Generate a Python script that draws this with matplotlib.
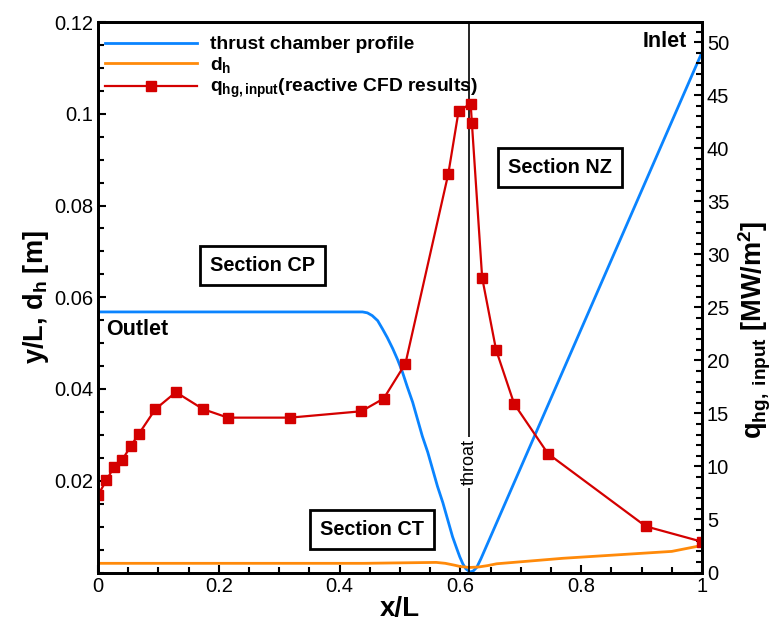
import numpy as np
import matplotlib
matplotlib.use('Agg')
import matplotlib.pyplot as plt
from matplotlib.ticker import MultipleLocator, FixedLocator
#
# -----------------------------------------------------------------------------
#
""" Data """
# thrust chamber contour (normalized radius over normalized length)
x_prof = [0.0, 0.438, 0.446, 0.454, 0.463, 0.471, 0.479, 0.488, 0.496, 0.504,
          0.512, 0.521, 0.529, 0.537, 0.546, 0.554, 0.562, 0.571, 0.579, 0.587,
          0.594, 0.599, 0.604, 0.609, 0.616, 0.621, 0.627, 0.634, 1.0]
y_prof = [0.0568, 0.0568, 0.0566, 0.0560, 0.0549, 0.0531, 0.0512, 0.0488, 0.0464, 0.0437,
          0.0405, 0.0371, 0.0334, 0.0297, 0.0262, 0.0225, 0.0188, 0.0152, 0.0115, 0.0078,
          0.0052, 0.0034, 0.0019, 0.0008, 0.0001, 0.0003, 0.0011, 0.0030, 0.1134]

# hydraulic diameter of the cooling channels
x_dh = [0.0, 0.44, 0.50, 0.56, 0.575, 0.59, 0.60, 0.615, 0.63, 0.645, 0.66, 0.77, 0.95, 1.0]
dh = [0.0020, 0.0020, 0.0021, 0.0022, 0.0020, 0.0016, 0.0013, 0.0011, 0.0012, 0.0015,
      0.0019, 0.0031, 0.0046, 0.0059]

# hot gas wall heat flux from reactive CFD
x_q = [0.0, 0.014, 0.026, 0.040, 0.054, 0.068, 0.095, 0.129, 0.174, 0.215, 0.318, 0.436,
       0.473, 0.509, 0.580, 0.597, 0.617, 0.619, 0.636, 0.659, 0.689, 0.745, 0.907, 1.0]
q_hg = [7.3, 8.7, 9.9, 10.6, 11.9, 13.1, 15.4, 17.0, 15.4, 14.6, 14.6, 15.2,
        16.4, 19.7, 37.6, 43.5, 44.2, 42.4, 27.8, 21.0, 15.9, 11.2, 4.35, 2.9]

x_throat = 0.614
#
# -----------------------------------------------------------------------------
#
""" Plot """
matplotlib.rcParams.update({'font.family': 'Liberation Sans',
                            'mathtext.fontset': 'custom',
                            'mathtext.rm': 'Liberation Sans',
                            'mathtext.bf': 'Liberation Sans:bold',
                            'mathtext.it': 'Liberation Sans:italic',
                            'font.size': 14})

f = plt.figure(figsize=(7.75, 6.21), dpi=100)
ax1 = f.add_axes([98/775, 1 - 572.5/621, 604/775, 550.5/621])
ax2 = ax1.twinx()

c_blue = '#0a84ff'
c_orange = '#ff8a0a'
c_red = '#d40000'

l1, = ax1.plot(x_prof, y_prof, c=c_blue, linewidth=2.0, label='thrust chamber profile')
l2, = ax1.plot(x_dh, dh, c=c_orange, linewidth=2.0, label=r'd$_\mathbf{h}$')
l3, = ax2.plot(x_q, q_hg, c=c_red, linewidth=1.6, marker='s', markersize=6.8,
               label=r'q$_\mathbf{hg,input}$(reactive CFD results)')

ax1.axvline(x_throat, c='k', linewidth=1.2)
ax1.text(x_throat, 0.0240, 'throat', rotation=90, ha='center', va='center', fontsize=13,
         bbox=dict(facecolor='white', edgecolor='none', pad=1.5))

# section boxes
box = dict(boxstyle='square,pad=0.5', facecolor='white', edgecolor='k', linewidth=2)
ax1.text(0.273, 0.0669, 'Section CP', ha='center', va='center', fontsize=14.3,
         fontweight='bold', bbox=box)
ax1.text(0.453, 0.0093, 'Section CT', ha='center', va='center', fontsize=14.3,
         fontweight='bold', bbox=box)
ax1.text(0.765, 0.0882, 'Section NZ', ha='center', va='center', fontsize=14.3,
         fontweight='bold', bbox=box)
ax1.text(0.013, 0.0530, 'Outlet', ha='left', va='center', fontsize=15.5, fontweight='bold')
ax1.text(0.975, 0.1157, 'Inlet', ha='right', va='center', fontsize=15.5, fontweight='bold')

# axes limits and ticks
ax1.set_xlim(0, 1)
ax1.set_ylim(0, 0.12)
ax2.set_ylim(0, 51.9)
ax1.xaxis.set_major_locator(FixedLocator([0, 0.2, 0.4, 0.6, 0.8, 1.0]))
ax1.set_xticklabels(['0', '0.2', '0.4', '0.6', '0.8', '1'])
ax1.xaxis.set_minor_locator(MultipleLocator(0.05))
ax1.yaxis.set_major_locator(FixedLocator([0.02, 0.04, 0.06, 0.08, 0.10, 0.12]))
ax1.set_yticklabels(['0.02', '0.04', '0.06', '0.08', '0.1', '0.12'])
ax1.yaxis.set_minor_locator(MultipleLocator(0.005))
ax2.yaxis.set_major_locator(MultipleLocator(5))
ax2.yaxis.set_minor_locator(MultipleLocator(1))

for ax in (ax1, ax2):
    ax.tick_params(which='both', direction='in', width=1.5, labelsize=14.5)
    ax.tick_params(which='major', length=6)
    ax.tick_params(which='minor', length=4)
    for s in ax.spines.values():
        s.set_linewidth(2)
ax1.tick_params(axis='both', top=False, right=False)
ax2.tick_params(axis='y', left=False, right=True)

ax1.set_xlabel('x/L', fontsize=20, fontweight='bold', labelpad=0)
ax1.set_ylabel(r'y/L, d$_\mathbf{h}$ [m]', fontsize=19.5, fontweight='bold', labelpad=2)
ax2.set_ylabel(r'$\mathbf{q_{hg,\ input}\ [MW/m^2]}$', fontsize=19.5)
ax2.yaxis.set_label_coords(1.058, 0.44)

ax1.legend(handles=[l1, l2, l3], loc='upper left', bbox_to_anchor=(-0.002, 0.989),
           frameon=False, handlelength=4.8, prop={'weight': 'bold', 'size': 13.9},
           labelspacing=0.1, borderaxespad=0, handletextpad=0.65)

f.savefig('out.png', dpi=100)
